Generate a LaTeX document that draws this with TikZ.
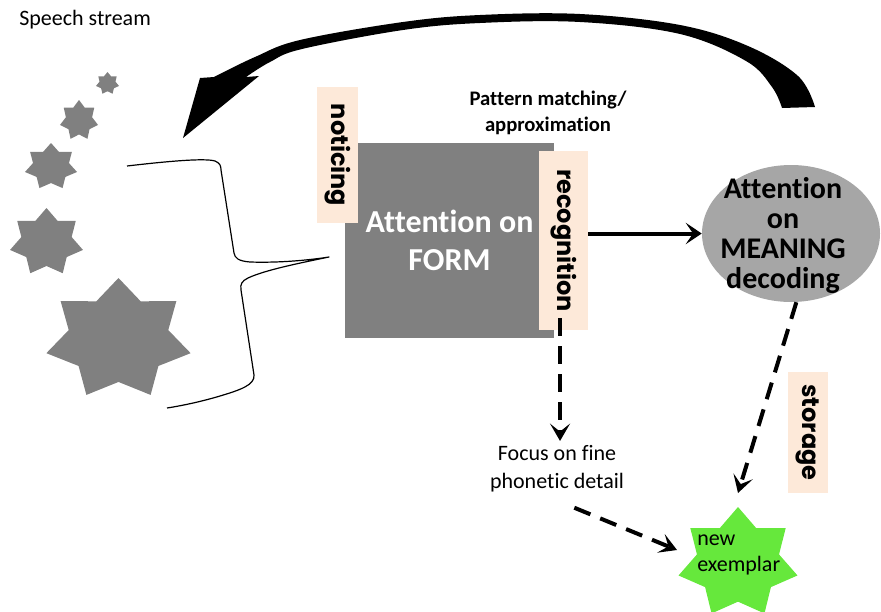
\documentclass[tikz,border=0pt]{standalone}
\usepackage{fontspec}
\setmainfont{Carlito}[Ligatures=NoCommon]
\newfontfamily\tagfont{Poppins}
\usetikzlibrary{arrows.meta,shapes.geometric,calc}

\definecolor{peach}{HTML}{FDE9D9}
\definecolor{formgray}{HTML}{808080}
\definecolor{meangray}{HTML}{A6A6A6}
\definecolor{exgreen}{HTML}{66E83C}

% seven-pointed star: centre x, centre y, x radius, y radius, fill style
\newcommand{\heptagram}[5]{%
  \begin{scope}[shift={(#1,#2)}]
    \fill[#5] (0,{-#4})
      \foreach \k [evaluate=\k as \r using {mod(\k,2)==0 ? 1 : 0.69}] in {1,...,13}
        { -- ({-90+\k*180/7}:{\r*#3} and {\r*#4}) } -- cycle;
  \end{scope}}

\tikzset{
  tag/.style={fill=peach, rotate=-90, inner sep=0pt,
    font=\tagfont\bfseries\fontsize{18}{20}\selectfont},
  dasharrow/.style={line width=3pt, dash pattern=on 13pt off 8pt,
    -{Stealth[length=13pt,width=15pt,inset=6pt]}},
  solidarrow/.style={line width=3pt,
    -{Stealth[length=12pt,width=16pt,inset=5.5pt]}},
  bracestyle/.style={line width=0.9pt, line join=round},
}

\begin{document}
\begin{tikzpicture}[x=0.75pt, y=-0.75pt]
\useasboundingbox (0,0) rectangle (881,611);

% feedback arrow sweeping back to the speech stream
\fill plot[smooth, tension=0.6] coordinates {(815,107) (798,76) (748,46) (680,25)
    (580,14) (480,15) (403,22) (300,40) (255,57) (214,77)}
  -- (200,78) -- (183,138) -- (259,76)
  -- plot[smooth, tension=0.6] coordinates {(246,77) (270,62) (302,49) (403,30)
    (480,23) (580,22) (680,34) (746,61) (772,87) (782,108)} -- cycle;

% speech stream
\node[anchor=west, inner sep=0pt, font=\fontsize{16.5}{20}\selectfont] (speech) at (19,20) {Speech stream};
\heptagram{107.5}{83.4}{11.8}{11.4}{formgray}
\heptagram{79}{120.4}{19.5}{20.4}{formgray}
\heptagram{51}{166.7}{26.7}{23.7}{formgray}
\heptagram{46.5}{242.3}{37.4}{34.3}{formgray}
\heptagram{118.5}{339.5}{74}{61.5}{formgray}

% brace gathering the stream
\coordinate (bracetip) at (329,257);
\draw[bracestyle] (127,166) .. controls (170,161) and (205,158) .. (215,161)
  .. controls (220,163) and (221,166) .. (221,170) -- (234,253)
  .. controls (235,258) and (238,261) .. (250,262)
  .. controls (280,263) and (310,260) .. (bracetip)
  .. controls (300,263) and (265,270) .. (248,278)
  .. controls (242,281) and (240,284) .. (241,290) -- (254,375)
  .. controls (255,385) and (240,390) .. (220,396)
  .. controls (200,402) and (180,406) .. (167,408);

% form processing
\node[fill=formgray, minimum width=156.75pt, minimum height=146.25pt, text=white,
  font=\bfseries\fontsize{24}{28}\selectfont, align=center] (form) at (449.5,240.5) {Attention on\\FORM};
\node[tag, minimum width=102pt, minimum height=30.75pt] (notice) at (337.5,155) {noticing};
\node[tag, minimum width=134.25pt, minimum height=36.75pt] (rec) at (563.5,240.5) {recognition};
\node[font=\bfseries\fontsize{15.5}{20}\selectfont, align=center] (pattern) at (548,113) {Pattern matching/\\approximation};

% meaning
\node[ellipse, fill=meangray, minimum width=133.5pt, minimum height=102.75pt, inner sep=0pt] (mean) at (791,233.5) {};
\node[font=\bfseries\fontsize{22.5}{22.5}\selectfont, align=center] (meantext) at (783,236) {Attention\\on\\MEANING\\decoding};
\node[tag, minimum width=90.75pt, minimum height=30pt] (store) at (808,432.5) {storage};

% fine phonetic detail
\node[font=\fontsize{16.5}{21}\selectfont, align=center] (focus) at (557,469) {Focus on fine\\phonetic detail};

% new exemplar
\heptagram{738}{563}{61}{56}{exgreen}
\coordinate (ex) at (738,563);
\coordinate (extip) at ($(ex)+(0,-70)$);
\coordinate (exleft) at ($(ex)+(-61,-13)$);
\node[anchor=west, inner sep=0pt, align=left, font=\fontsize{16.5}{19.5}\selectfont] (exlabel) at (697,555) {new\\exemplar};

% connectors
\draw[solidarrow] (rec.north |- mean.west) -- (mean.west);
\coordinate (recfoot) at ([xshift=-2.6pt,yshift=9pt]rec.east);
\draw[dasharrow] (recfoot) -- (recfoot |- focus.north);
\draw[dasharrow] ([xshift=4pt]mean.south) -- (extip);
\draw[dasharrow] ([shift={(13pt,-8pt)}]focus.south) -- (exleft);
\end{tikzpicture}
\end{document}
